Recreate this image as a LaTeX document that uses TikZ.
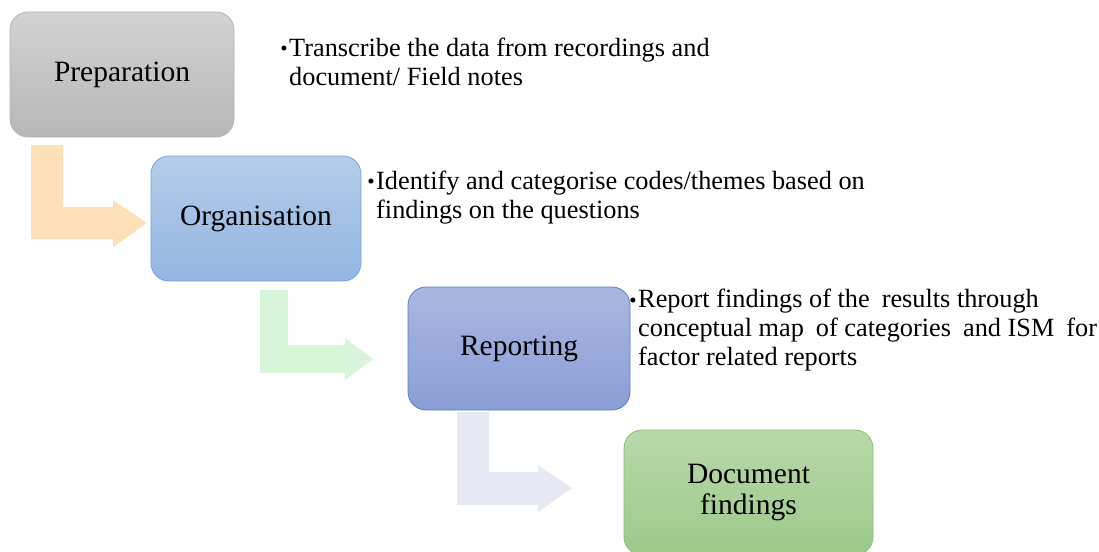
\documentclass[tikz,border=0pt]{standalone}
\usepackage{fontspec}
\setmainfont{Liberation Serif}
\usetikzlibrary{positioning}

\definecolor{prepTop}{HTML}{D3D3D3}
\definecolor{prepBot}{HTML}{B6B6B6}
\definecolor{prepLine}{HTML}{B4B4B4}
\definecolor{orgTop}{HTML}{B4CDEA}
\definecolor{orgBot}{HTML}{93B5E1}
\definecolor{orgLine}{HTML}{72A3DB}
\definecolor{repTop}{HTML}{AAB7E0}
\definecolor{repBot}{HTML}{8A9DD6}
\definecolor{repLine}{HTML}{5282D0}
\definecolor{docTop}{HTML}{B8D8AA}
\definecolor{docBot}{HTML}{9CC98A}
\definecolor{docLine}{HTML}{8ABF70}
\definecolor{arrOrange}{HTML}{FDE0B8}
\definecolor{arrGreen}{HTML}{D6F5D9}
\definecolor{arrLav}{HTML}{E6E9F4}

\tikzset{
  stage/.style={rounded corners=18pt, line width=0.8pt, inner sep=0pt,
    font=\fontsize{29.5}{31}\selectfont, align=center, text=black},
  note/.style={anchor=north west, inner sep=0pt, align=left,
    font=\fontsize{26.3}{29}\selectfont}
}
\newcommand{\bul}{\llap{\raisebox{0.02em}{\fontsize{21}{21}\selectfont\textbullet}\hspace{1.5pt}}}
\newcommand{\gap}{\hspace{12pt}}

\begin{document}
\begin{tikzpicture}[x=1pt,y=-1pt]
\useasboundingbox (0,0) rectangle (1099,551);
\clip (0,0) rectangle (1099,551);

% bent connector arrows (drawn first, behind the boxes)
\fill[arrOrange] (31,145) -- (63,145) -- (63,207) -- (113,207) -- (113,200)
  -- (147,223) -- (113,247) -- (113,239) -- (31,239) -- cycle;
\fill[arrGreen] (260,290) -- (288,290) -- (288,345) -- (345,345) -- (345,338)
  -- (373,359) -- (345,380) -- (345,373) -- (260,373) -- cycle;
\fill[arrLav] (457,412) -- (489,412) -- (489,472) -- (538,472) -- (538,465)
  -- (572,488) -- (538,512) -- (538,505) -- (457,505) -- cycle;

% stage boxes
\node[stage, minimum width=224pt, minimum height=125pt,
  top color=prepTop, bottom color=prepBot, draw=prepLine]
  (prep) at (122,74.5) {Preparation};
\node[stage, minimum width=210pt, minimum height=125pt,
  top color=orgTop, bottom color=orgBot, draw=orgLine]
  (org) at (256,218.5) {Organisation};
\node[stage, minimum width=222pt, minimum height=123pt,
  top color=repTop, bottom color=repBot, draw=repLine]
  (rep) at (519,348.5) {Reporting};
\node[stage, minimum width=249pt, minimum height=125pt,
  top color=docTop, bottom color=docBot, draw=docLine]
  (doc) at (748.5,492.5) {Document\\findings};

% notes beside the boxes
\node[note] (n1) at (289,37.5) {\bul Transcribe the data from recordings and\\document/ Field notes};
\node[note] (n2) at (376,170.5) {\bul Identify and categorise codes/themes based on\\findings on the questions};
\node[note] (n3) at (638,289) {\bul Report findings of the\gap results through\\conceptual map\gap of categories\gap and ISM\gap for\\factor related reports};
\end{tikzpicture}
\end{document}
